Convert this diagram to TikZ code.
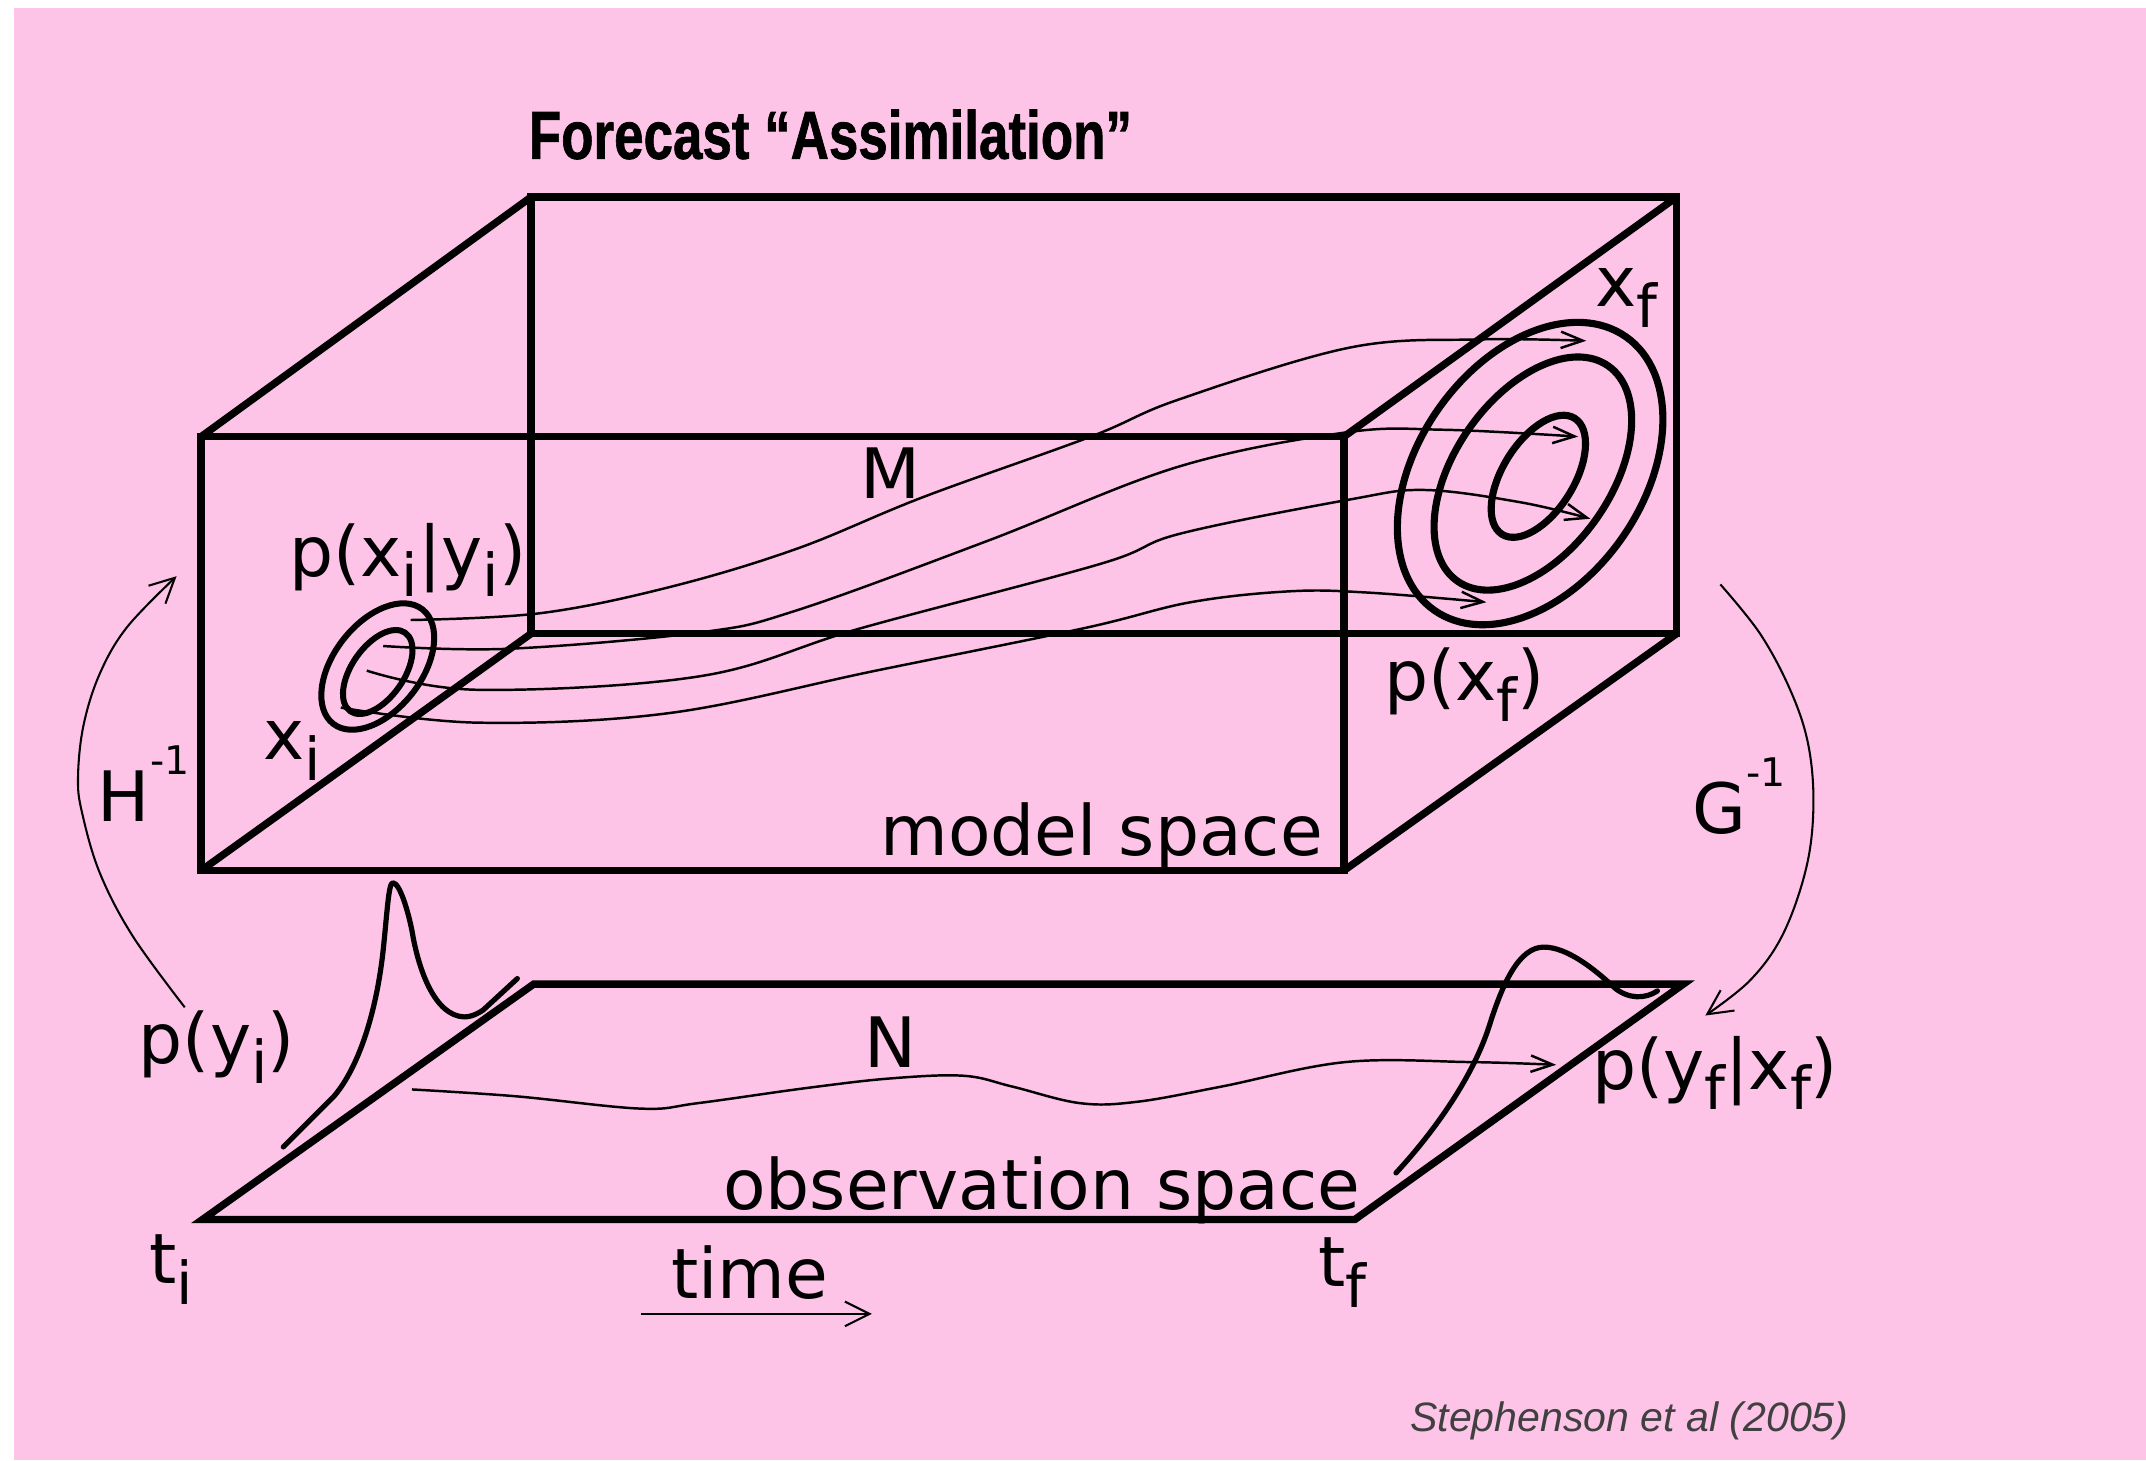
\documentclass[tikz,border=0pt]{standalone}
\usepackage{fontspec}
\usepackage{graphicx}
\setmainfont{DejaVu Sans}
\newfontfamily\titlefont{Liberation Sans}
\newfontfamily\titleboldfont[FakeBold=1.2]{Liberation Sans Bold}
\usetikzlibrary{arrows.meta}
\definecolor{bgpink}{RGB}{253,196,231}
\newcommand\sbx[1]{\raisebox{-7.5pt}{\fontsize{21.6pt}{22pt}\selectfont #1}}
\newcommand\spx[1]{\raisebox{17pt}{\fontsize{14.4pt}{15pt}\selectfont #1}}
\tikzset{
  lab/.style={inner sep=0pt, anchor=base west, font=\fontsize{25.4pt}{30pt}\selectfont},
  boxedge/.style={line width=2.7pt, line join=miter},
  ring/.style={line width=2.2pt},
  bigring/.style={line width=2.6pt},
  traj/.style={line width=0.9pt, -{Straight Barb[length=8pt,width=6pt]}},
  maparr/.style={line width=0.75pt, -{Straight Barb[length=9pt,width=9pt]}},
  peak/.style={line width=1.9pt, line cap=round, line join=round},
}
\begin{document}
\begin{tikzpicture}[x=0.5pt,y=-0.5pt]
\useasboundingbox (0,0) rectangle (1568,1066.8);
\fill[white] (0,0) rectangle (1568,1066.8);
\fill[bgpink] (10.2,5.8) rectangle (1568,1066.8);

% box corners
\coordinate (FTL) at (147,319);
\coordinate (FTR) at (982,319);
\coordinate (FBL) at (147,636);
\coordinate (FBR) at (982,636);
\coordinate (BTL) at (388,144);
\coordinate (BTR) at (1225,144);
\coordinate (BBL) at (388,463);
\coordinate (BBR) at (1225,463);
\draw[boxedge] (FTL) -- (FTR) -- (FBR) -- (FBL) -- cycle;
\draw[boxedge] (BTL) -- (BTR) -- (BBR) -- (BBL) -- cycle;
\draw[boxedge] (FTL) -- (BTL);
\draw[boxedge] (FTR) -- (BTR);
\draw[boxedge] (FBR) -- (BBR);
\draw[boxedge] (FBL) -- (BBL);

% observation plane
\coordinate (OBL) at (148,891);
\coordinate (OBR) at (990,891);
\coordinate (OTR) at (1230,719);
\coordinate (OTL) at (390,719);
\draw[boxedge] (OBL) -- (OBR) -- (OTR) -- (OTL) -- cycle;

% initial rings
\draw[ring] (276,487) ellipse[x radius=53, y radius=32, rotate=52];
\draw[ring] (276,491) ellipse[x radius=35, y radius=19, rotate=55];
% final rings
\draw[bigring] (1118,346) ellipse[x radius=122, y radius=82, rotate=55];
\draw[bigring] (1120,346) ellipse[x radius=96, y radius=57, rotate=55];
\draw[bigring] (1124,348) ellipse[x radius=50, y radius=26, rotate=58];

% model trajectories
\draw[traj] plot[smooth, tension=0.6] coordinates {(300,453) (395,448) (489,429) (582,401) (675,363) (797,319) (861,292) (986,254) (1080,248) (1159,249)};
\draw[traj] plot[smooth, tension=0.6] coordinates {(280,472) (372,474) (512,462) (582,446) (722,395) (861,341) (983,316) (1055,314) (1153,319)};
\draw[traj] plot[smooth, tension=0.6] coordinates {(268,490) (349,504) (512,494) (629,459) (804,412) (862,390) (986,365) (1041,358) (1111,367) (1162,379)};
\draw[traj] plot[smooth, tension=0.6] coordinates {(249,517) (349,528) (489,521) (640,490) (792,459) (870,440) (943,432) (1000,433) (1086,440)};

% observation trajectory
\draw[traj] plot[smooth, tension=0.6] coordinates {(301,796) (377,801) (468,810) (510,806) (589,795) (650,788) (704,786) (740,794) (789,806) (831,805) (892,794) (983,776) (1074,776) (1137,778)};

% observation pdfs
\draw[peak] (207,838) -- (244,801) .. controls (262,780) and (275,740) .. (280,694)
  .. controls (283,665) and (284,645) .. (287,645)
  .. controls (292,645) and (298,665) .. (301,680)
  .. controls (306,710) and (318,742) .. (339,743)
  .. controls (345,743) and (350,740) .. (353,738) -- (378,715);
\draw[peak] (1020,857) .. controls (1045,830) and (1075,790) .. (1088,750)
  .. controls (1098,718) and (1110,692) .. (1128,692)
  .. controls (1145,692) and (1165,708) .. (1180,722)
  .. controls (1190,730) and (1202,730) .. (1211,724);

% labels
\node[inner sep=0pt, anchor=base west] (title) at (386,116) {\scalebox{0.78}[1]{\titleboldfont\fontsize{24.8pt}{28pt}\selectfont Forecast “Assimilation”}};
\node[lab, anchor=base] (M) at (651,364) {M};
\node[lab, anchor=base east] (model) at (967,625) {model space};
\node[lab] (pxiyi) at (211,421) {p(x\sbx{i}|y\sbx{i})};
\node[lab] (xi) at (192,555) {x\sbx{i}};
\node[lab] (Hinv) at (71,600) {H\spx{-1}};
\node[lab] (pyi) at (101,777) {p(y\sbx{i})};
\node[lab] (ti) at (109,938) {t\sbx{i}};
\node[lab] (time) at (490,949) {time};
\node[lab] (tf) at (963,940) {t\sbx{f}};
\node[lab] (obs) at (528,884) {observation space};
\node[lab, anchor=base] (N) at (651,780) {N};
\node[lab] (pyfxf) at (1163,796) {p(y\sbx{f}|x\sbx{f})};
\node[lab] (Ginv) at (1236,609) {G\spx{-1}};
\node[lab] (pxf) at (1011,512) {p(x\sbx{f})};
\node[lab] (xf) at (1165,224) {x\sbx{f}};
\node[inner sep=0pt, anchor=base west, text=black!75] (cite) at (1030,1046) {\titlefont\itshape\fontsize{15pt}{18pt}\selectfont Stephenson et al (2005)};

% time arrow
\coordinate (ta) at (468,960);
\coordinate (tb) at (637,960);
\draw[maparr] (ta) -- (tb);

% H^-1 and G^-1 arcs
\draw[maparr] plot[smooth, tension=0.6] coordinates {(135,736) (97,684) (73,638) (60,594) (57,568) (61,530) (73,492) (93,458) (129,421)};
\draw[maparr] plot[smooth, tension=0.6] coordinates {(1257,427) (1286,463) (1308,504) (1321,543) (1325,587) (1320,633) (1303,682) (1279,716) (1246,742)};
\end{tikzpicture}
\end{document}
